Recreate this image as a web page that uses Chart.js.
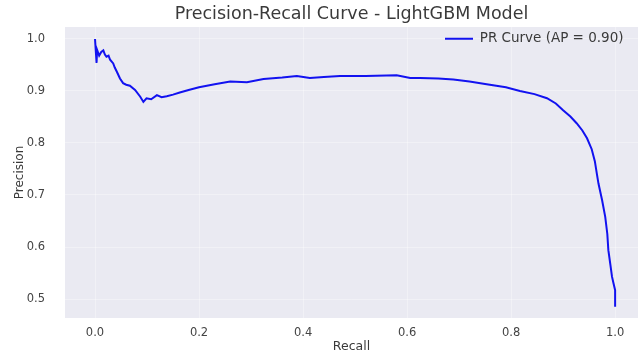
<!DOCTYPE html>
<html><head><meta charset="utf-8">
<script src="https://cdn.jsdelivr.net/npm/chart.js@4.4.0/dist/chart.umd.min.js"></script>
<style>html,body{margin:0;padding:0;background:#fff}#wrap{width:638px;height:354px}</style>
</head><body><div id="wrap"><canvas id="c"></canvas></div>
<script>
const recall = [0.000,0.003,0.004,0.008,0.012,0.016,0.019,0.022,0.026,0.029,0.035,0.038,0.042,0.048,0.054,0.060,0.067,0.077,0.087,0.093,0.099,0.108,0.119,0.128,0.138,0.150,0.163,0.180,0.200,0.230,0.260,0.292,0.324,0.360,0.388,0.413,0.440,0.471,0.520,0.580,0.606,0.625,0.660,0.689,0.720,0.753,0.790,0.817,0.845,0.869,0.886,0.900,0.914,0.926,0.937,0.946,0.955,0.961,0.965,0.968,0.975,0.981,0.985,0.987,0.991,0.994,0.997,1.000,1.000];
const precision = [1.000,0.954,0.979,0.968,0.975,0.978,0.970,0.966,0.968,0.960,0.953,0.945,0.937,0.924,0.915,0.912,0.910,0.902,0.889,0.879,0.886,0.884,0.892,0.888,0.890,0.893,0.897,0.902,0.907,0.913,0.918,0.917,0.923,0.926,0.929,0.925,0.927,0.929,0.929,0.930,0.925,0.925,0.924,0.922,0.918,0.913,0.907,0.900,0.894,0.886,0.876,0.863,0.851,0.838,0.824,0.809,0.788,0.765,0.740,0.722,0.690,0.658,0.625,0.594,0.565,0.543,0.530,0.517,0.485];
const xTicks = [0.0,0.2,0.4,0.6,0.8,1.0];
const yTicks = [0.5,0.6,0.7,0.8,0.9,1.0];
const seriesLabel = 'PR Curve (AP = 0.90)';
const chartTitle = 'Precision-Recall Curve - LightGBM Model';

const FONT = 'DejaVu Sans';
const bgPlugin = {
  id: 'bg',
  afterLayout(chart) {
    const a = chart.chartArea;
    const t = chart.titleBlock;
    if (t) { t.left = a.left; t.right = a.right; t.width = a.right - a.left; }
    const lg = chart.legend;
    if (lg) {
      const w = lg.width;
      lg.left = 445 - lg.options.labels.padding;
      lg.right = lg.left + w;
      lg.top = a.top - 1;
      lg.bottom = lg.top + lg.height;
    }
  },
  beforeDraw(chart) {
    const {ctx, chartArea: a} = chart;
    ctx.save();
    ctx.fillStyle = '#ffffff';
    ctx.fillRect(0, 0, chart.width, chart.height);
    ctx.fillStyle = '#EAEAF2';
    ctx.fillRect(a.left, a.top, a.right - a.left, a.bottom - a.top);
    ctx.restore();
  }
};

new Chart(document.getElementById('c'), {
  type: 'line',
  data: {
    datasets: [{
      label: seriesLabel,
      data: recall.map((r, i) => ({x: r, y: precision[i]})),
      borderColor: '#1212F0',
      backgroundColor: '#1212F0',
      borderWidth: 2,
      pointRadius: 0,
      tension: 0,
      fill: false
    }]
  },
  options: {
    responsive: true,
    maintainAspectRatio: false,
    animation: false,
    devicePixelRatio: 1,
    layout: {padding: 0},
    plugins: {
      title: {
        display: true, text: chartTitle, color: '#3a3a3a',
        font: {family: FONT, size: 17.5, weight: 'normal'},
        padding: {top: 4, bottom: 2}
      },
      legend: {
        position: 'chartArea', align: 'start',
        labels: {
          usePointStyle: true, pointStyle: 'line', pointStyleWidth: 28,
          color: '#3a3a3a', font: {family: FONT, size: 13.5}, padding: 6
        }
      },
      tooltip: {enabled: false}
    },
    scales: {
      x: {
        type: 'linear', min: -0.0577, max: 1.044,
        afterBuildTicks: s => { s.ticks = xTicks.map(v => ({value: v})); },
        afterFit: s => { s.height = 36; },
        ticks: {callback: v => Number(v).toFixed(1), color: '#444', font: {family: FONT, size: 11.5}, padding: 8, maxRotation: 0},
        grid: {color: 'rgba(255,255,255,0.35)', drawTicks: false},
        border: {display: false},
        title: {display: true, text: 'Recall', color: '#3a3a3a', font: {family: FONT, size: 12.5}, padding: {top: 0, bottom: 0}}
      },
      y: {
        type: 'linear', min: 0.4635, max: 1.023,
        afterBuildTicks: s => { s.ticks = yTicks.map(v => ({value: v})); },
        afterFit: s => { s.width = 65; },
        ticks: {callback: v => Number(v).toFixed(1), color: '#444', font: {family: FONT, size: 11.5}, padding: 20},
        grid: {color: 'rgba(255,255,255,0.35)', drawTicks: false},
        border: {display: false},
        title: {display: true, text: 'Precision', color: '#3a3a3a', font: {family: FONT, size: 12}, padding: {top: 13, bottom: 0}}
      }
    }
  },
  plugins: [bgPlugin]
});
</script>
</body></html>
